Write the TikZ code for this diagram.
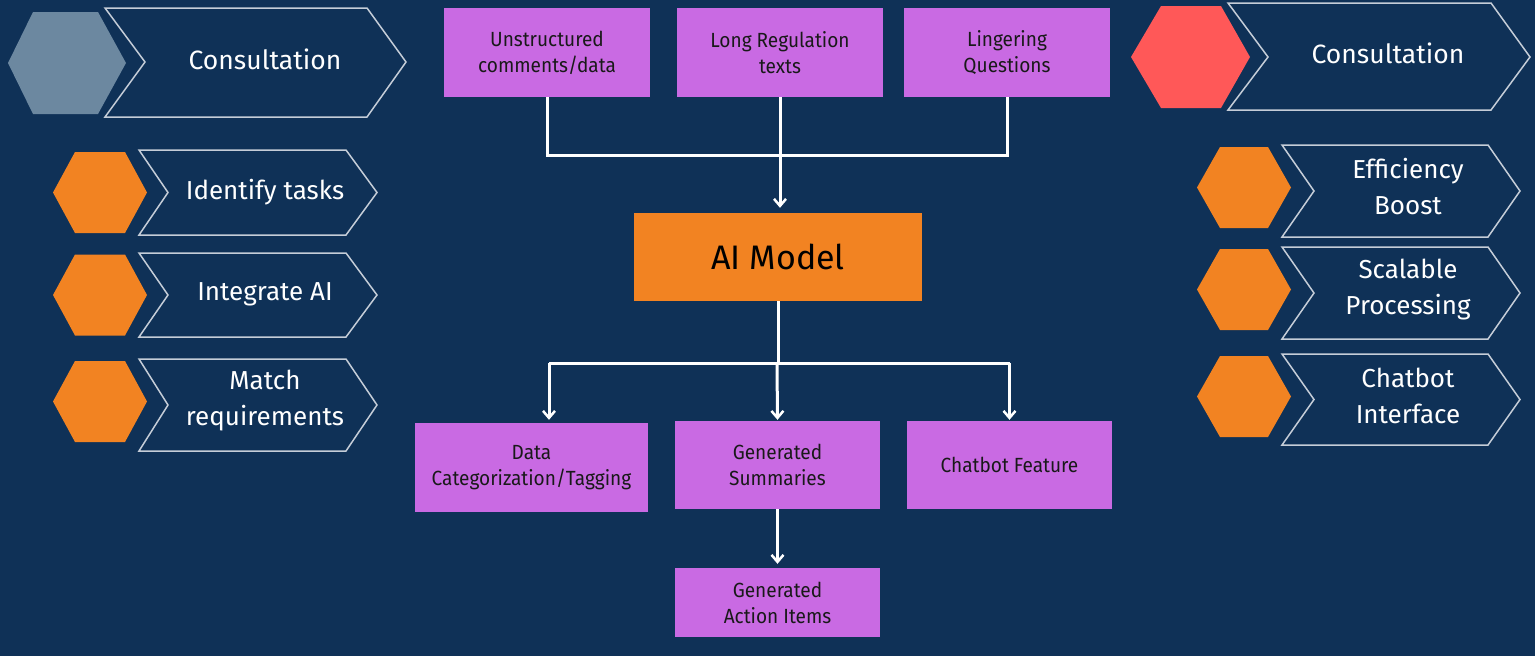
\documentclass[tikz,border=0pt]{standalone}
\usepackage{fontspec}
\setmainfont{Fira Sans}
\newfontfamily\boxfont[FakeStretch=0.93]{Fira Sans}
\usetikzlibrary{arrows.meta}
\definecolor{bg}{HTML}{0F3157}
\definecolor{chevline}{HTML}{C5CDD8}
\definecolor{hexgray}{HTML}{6C88A0}
\definecolor{hexred}{HTML}{FF5858}
\definecolor{hexorange}{HTML}{F28322}
\definecolor{boxpurple}{HTML}{C96AE3}
\tikzset{
  chev/.style={draw=chevline, line width=1.5pt, line join=miter},
  hexa/.style={fill=#1, draw=none},
  ptext/.style={text=white, align=center, font=\fontsize{26}{36}\selectfont},
  bigtext/.style={text=white, align=center, font=\fontsize{26.5}{30}\selectfont},
  pbox/.style={fill=boxpurple, draw=none, align=center, inner sep=0pt,
    font=\boxfont\fontsize{20.5}{26}\selectfont, text=black!90},
  aibox/.style={fill=hexorange, draw=none, inner sep=0pt,
    font=\fontsize{34}{38}\selectfont, text=black},
  conn/.style={draw=white, line width=3pt},
  arr/.style={conn, -{Straight Barb[length=7pt,width=12pt,line width=2.5pt]}},
}
\begin{document}
\begin{tikzpicture}[x=1pt,y=-1pt]
\fill[bg] (0,0) rectangle (1535,656);
\useasboundingbox (0,0) rectangle (1535,656);

% ---- left column ----
\fill[hexa=hexgray] (8,63) -- (33,12) -- (98,12) -- (126,63) -- (98,114) -- (33,114) -- cycle;
\draw[chev] (105,8) -- (367,8) -- (406,62) -- (367,117) -- (105,117) -- (145,62) -- cycle;
\node[bigtext] (lc) at (265,59) {Consultation};

\foreach \c in {192.5,295,401.5}{
  \fill[hexa=hexorange] (53,\c) -- (75,\c-40.5) -- (125,\c-40.5) -- (147,\c) -- (125,\c+40.5) -- (75,\c+40.5) -- cycle;
}
\draw[chev] (139,150) -- (346,150) -- (377,192.5) -- (346,235) -- (139,235) -- (168,192.5) -- cycle;
\draw[chev] (139,253) -- (346,253) -- (377,295) -- (346,337) -- (139,337) -- (168,295) -- cycle;
\draw[chev] (139,359) -- (346,359) -- (377,405) -- (346,451) -- (139,451) -- (168,405) -- cycle;
\node[ptext] (l1) at (265,192) {Identify tasks};
\node[ptext] (l2) at (265,294) {Integrate AI};
\node[ptext] (l3) at (265,401) {Match\\requirements};

% ---- right column ----
\fill[hexa=hexred] (1131,57) -- (1161,6) -- (1221,6) -- (1250,57) -- (1221,108) -- (1161,108) -- cycle;
\draw[chev] (1228,3) -- (1491,3) -- (1530,57) -- (1491,110) -- (1228,110) -- (1268,57) -- cycle;
\node[bigtext] (rc) at (1388,53) {Consultation};

\foreach \c in {187.5,289.5,396.5}{
  \fill[hexa=hexorange] (1197,\c) -- (1220,\c-40.5) -- (1268,\c-40.5) -- (1291,\c) -- (1268,\c+40.5) -- (1220,\c+40.5) -- cycle;
}
\draw[chev] (1282,145) -- (1488,145) -- (1520,191) -- (1488,237) -- (1282,237) -- (1314,191) -- cycle;
\draw[chev] (1282,247) -- (1488,247) -- (1520,293) -- (1488,339) -- (1282,339) -- (1314,293) -- cycle;
\draw[chev] (1282,354) -- (1488,354) -- (1520,399.5) -- (1488,445) -- (1282,445) -- (1314,399.5) -- cycle;
\node[ptext] (r1) at (1408,187) {Efficiency\\Boost};
\node[ptext] (r2) at (1408,290) {Scalable\\Processing};
\node[ptext] (r3) at (1408,396) {Chatbot\\Interface};

% ---- centre flow ----
\node[pbox, minimum width=206pt, minimum height=89pt] (u1) at (547,52.5) {Unstructured\\comments/data};
\node[pbox, minimum width=206pt, minimum height=89pt] (u2) at (780,52.5) {Long Regulation\\texts};
\node[pbox, minimum width=206pt, minimum height=89pt] (u3) at (1007,52.5) {Lingering\\Questions};
\node[aibox, minimum width=288pt, minimum height=88pt] (ai) at (778,257) {AI Model};
\node[pbox, minimum width=233pt, minimum height=89pt] (d1) at (531.5,467.5) {Data\\Categorization/Tagging};
\node[pbox, minimum width=205pt, minimum height=88pt] (d2) at (777.5,465) {Generated\\Summaries};
\node[pbox, minimum width=205pt, minimum height=88pt] (d3) at (1009.5,465) {Chatbot Feature};
\node[pbox, minimum width=205pt, minimum height=69pt] (d4) at (777.5,602.5) {Generated\\Action Items};

\coordinate (merge) at (780,155);
\coordinate (split) at (777,363);

\draw[conn] (u1.south) -- (u1.south |- merge) -| (u3.south);
\draw[arr, shorten >=5pt] (u2.south) -- (u2.south |- ai.north);
\draw[conn] (ai.south) -- (ai.south |- split);
\draw[conn] ([xshift=17.5pt]d1.north |- split) -- (d3.north |- split);
\draw[arr, shorten >=3pt] ([xshift=17.5pt]d1.north |- split) -- ([xshift=17.5pt]d1.north);
\draw[arr, shorten >=1pt] (split) -- (d2.north);
\draw[arr, shorten >=1pt] (d3.north |- split) -- (d3.north);
\draw[arr, shorten >=4pt] (d2.south) -- (d4.north);
\end{tikzpicture}
\end{document}
